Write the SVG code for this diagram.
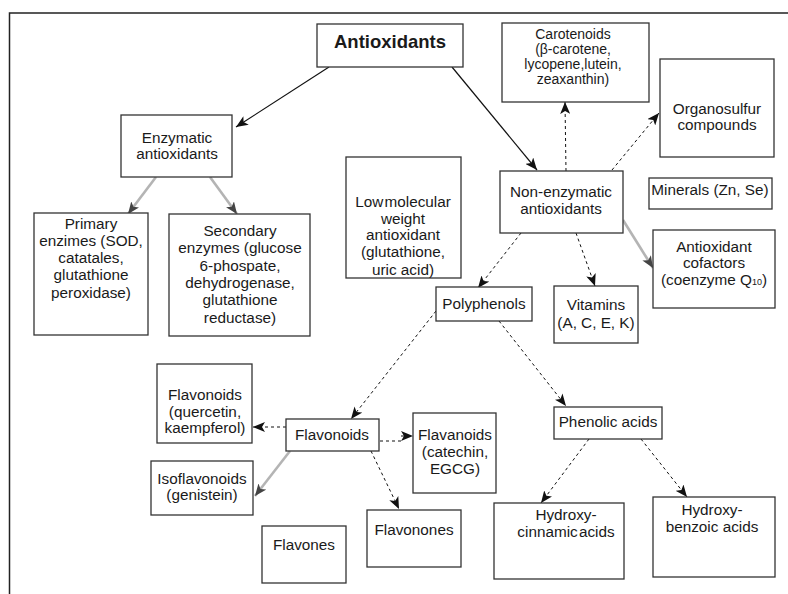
<svg xmlns="http://www.w3.org/2000/svg" width="788" height="594" viewBox="0 0 788 594">
<style>
.box{fill:#fff;stroke:#333;stroke-width:1.3}
text{font-family:"Liberation Sans",Arial,sans-serif;font-size:15.3px;fill:#1a1a1a;text-anchor:middle}
.b{font-weight:bold;font-size:18.5px}
.sm{font-size:14px}
.solid{stroke:#111;stroke-width:1.2;fill:none;marker-end:url(#ah)}
.dash{stroke:#111;stroke-width:1;stroke-dasharray:3,3;fill:none;marker-end:url(#ah)}
.grey{stroke:#b4b4b4;stroke-width:2.6;fill:none;marker-end:url(#ahg)}
</style>
<defs>
<marker id="ah" viewBox="0 0 12 10" refX="12" refY="5" markerWidth="12" markerHeight="10" markerUnits="userSpaceOnUse" orient="auto"><path d="M0,0 L12,5 L0,10 L3,5 z" fill="#111"/></marker>
<marker id="ahg" viewBox="0 0 12 10" refX="12" refY="5" markerWidth="12" markerHeight="10" markerUnits="userSpaceOnUse" orient="auto"><path d="M0,0 L12,5 L0,10 L3,5 z" fill="#444"/></marker>
</defs>
<rect width="788" height="594" fill="#fff"/>
<path d="M9.5,594 V13 H788" fill="none" stroke="#222" stroke-width="1.5"/>

<g id="connectors">
<line class="solid" x1="329" y1="67" x2="236" y2="127"/>
<line class="solid" x1="452" y1="67" x2="537" y2="170"/>
<line class="dash" x1="566" y1="171" x2="565" y2="102"/>
<line class="dash" x1="612" y1="170" x2="659" y2="113"/>
<line class="grey" x1="156" y1="177" x2="128" y2="214"/>
<line class="grey" x1="210" y1="177" x2="237" y2="214"/>
<line class="grey" x1="623" y1="220" x2="653" y2="268"/>
<line class="dash" x1="521" y1="233" x2="478" y2="288"/>
<line class="dash" x1="576" y1="233" x2="595" y2="286"/>
<line class="dash" x1="436" y1="311" x2="351" y2="419"/>
<line class="dash" x1="499" y1="321" x2="566" y2="406"/>
<line class="dash" x1="286" y1="427" x2="253" y2="427"/>
<path class="dash" d="M380,441 H401 M401,436 H413"/>
<line class="grey" x1="290" y1="451" x2="255" y2="496"/>
<line class="dash" x1="371" y1="451" x2="399" y2="509"/>
<line class="dash" x1="589" y1="439" x2="541" y2="503"/>
<line class="dash" x1="641" y1="439" x2="687" y2="497"/>
</g>

<g id="antioxidants"><rect class="box" x="317" y="24" width="146" height="43"/><text class="b" x="390" y="48">Antioxidants</text></g>
<g id="enzymatic"><rect class="box" x="121" y="115" width="111" height="62"/><text x="177" y="142.5">Enzymatic</text><text x="177" y="159">antioxidants</text></g>
<g id="carotenoids"><rect class="box" x="502" y="23" width="147" height="79"/><text class="sm" x="573" y="38.5">Carotenoids</text><text class="sm" x="573" y="53.5">(β-carotene,</text><text class="sm" x="573" y="68.5">lycopene,lutein,</text><text class="sm" x="573" y="83.5">zeaxanthin)</text></g>
<g id="organosulfur"><rect class="box" x="660" y="59" width="114" height="98"/><text x="717" y="113.5">Organosulfur</text><text x="717" y="129.5">compounds</text></g>
<g id="non-enzymatic"><rect class="box" x="500" y="171" width="123" height="62"/><text x="561" y="197">Non-enzymatic</text><text x="561" y="213.5">antioxidants</text></g>
<g id="minerals"><rect class="box" x="649" y="178" width="123" height="31"/><text x="710" y="195">Minerals (Zn, Se)</text></g>
<g id="cofactors"><rect class="box" x="653" y="230" width="122" height="78"/><text x="714" y="251.5">Antioxidant</text><text x="714" y="268">cofactors</text><text x="714" y="285">(coenzyme Q<tspan font-size="9">10</tspan>)</text></g>
<g id="low-molecular"><rect class="box" x="346" y="157" width="115" height="121"/><text x="403" y="207" word-spacing="-3">Low molecular</text><text x="403" y="223.5">weight</text><text x="403" y="240">antioxidant</text><text x="403" y="257">(glutathione,</text><text x="403" y="274.5">uric acid)</text></g>
<g id="primary"><rect class="box" x="34" y="213" width="114" height="122"/><text x="91" y="229">Primary</text><text x="91" y="246">enzimes (SOD,</text><text x="91" y="263">catatales,</text><text x="91" y="280">glutathione</text><text x="91" y="297.5">peroxidase)</text></g>
<g id="secondary"><rect class="box" x="169" y="214" width="141" height="122"/><text x="240" y="236">Secondary</text><text x="240" y="253">enzymes (glucose</text><text x="240" y="270.5">6-phospate,</text><text x="240" y="288">dehydrogenase,</text><text x="240" y="305">glutathione</text><text x="240" y="322.5">reductase)</text></g>
<g id="vitamins"><rect class="box" x="554" y="286" width="84" height="57"/><text x="596" y="310">Vitamins</text><text x="596" y="328">(A, C, E, K)</text></g>
<g id="polyphenols"><rect class="box" x="436" y="287" width="96" height="34"/><text x="484" y="309">Polyphenols</text></g>
<g id="flavonoids-q"><rect class="box" x="157" y="364" width="95" height="79"/><text x="205" y="400">Flavonoids</text><text x="205" y="416.7">(quercetin,</text><text x="205" y="433.3">kaempferol)</text></g>
<g id="isoflavonoids"><rect class="box" x="151" y="461" width="102" height="54"/><text x="202" y="483.5">Isoflavonoids</text><text x="202" y="500">(genistein)</text></g>
<g id="flavonoids"><rect class="box" x="286" y="419" width="93" height="32"/><text x="332" y="439.5">Flavonoids</text></g>
<g id="flavanoids"><rect class="box" x="413" y="413" width="83" height="80"/><text x="455" y="440">Flavanoids</text><text x="455" y="456.7">(catechin,</text><text x="455" y="473.5">EGCG)</text></g>
<g id="flavones"><rect class="box" x="262" y="526" width="84" height="57"/><text x="304" y="550">Flavones</text></g>
<g id="flavonones"><rect class="box" x="367" y="510" width="94" height="57"/><text x="414" y="534.5">Flavonones</text></g>
<g id="phenolic"><rect class="box" x="554" y="407" width="108" height="32"/><text x="608" y="427">Phenolic acids</text></g>
<g id="hydroxycinnamic"><rect class="box" x="494" y="503" width="130" height="76"/><text x="566" y="520">Hydroxy-</text><text x="566" y="537" word-spacing="-3">cinnamic acids</text></g>
<g id="hydroxybenzoic"><rect class="box" x="653" y="497" width="122" height="80"/><text x="712" y="515">Hydroxy-</text><text x="712" y="532">benzoic acids</text></g>
</svg>
